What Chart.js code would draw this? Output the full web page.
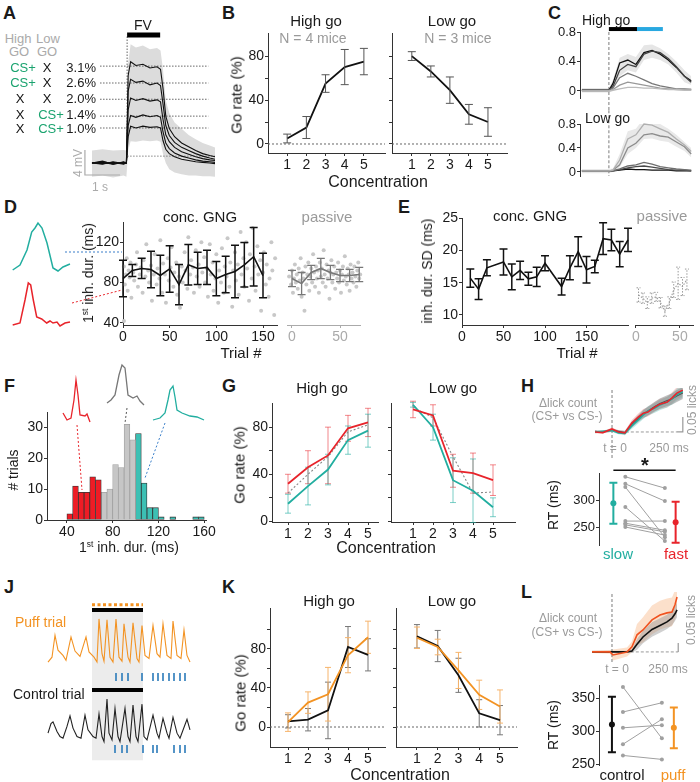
<!DOCTYPE html>
<html>
<head>
<meta charset="utf-8">
<title>Concentration go/no-go</title>
<script src="https://cdn.jsdelivr.net/npm/chart.js@4.4.1/dist/chart.umd.min.js"></script>
<style>
  body { margin: 0; width: 700px; height: 782px; position: relative; overflow: hidden; background: #fff;
         font-family: "Liberation Sans", Arial, Helvetica, sans-serif; }
  canvas { position: absolute; }
  .t { position: absolute; white-space: nowrap; line-height: 1; color: #1a1a1a; }
  sup { font-size: 0.6em; vertical-align: 0.55em; line-height: 0; }
</style>
</head>
<body>
<script>
// ---------------- data ----------------
var conc = [1, 2, 3, 4, 5];

// A - voltage traces per concentration (mV above baseline)
var aTime = [0, 0.3, 0.6, 0.9, 0.98, 1.03, 1.1, 1.25, 1.45, 1.65, 1.85, 1.95, 2.02, 2.1, 2.2, 2.35, 2.55, 2.75, 2.95, 3.15, 3.35, 3.5];
var aConc = ['3.1%', '2.6%', '2.0%', '1.4%', '1.0%'];
var aHighGo = ['CS+', 'CS+', 'X', 'X', 'X'];
var aLowGo = ['X', 'X', 'X', 'CS+', 'CS+'];
var aTraces = [
  [0, 0.3, -0.2, 0.2, 0, 14.0, 16.2, 15.6, 15.8, 15.2, 15.4, 15.0, 12.0, 7.5, 5.5, 4.2, 3.2, 2.6, 2.0, 1.5, 1.2, 1.0],
  [0, -0.2, 0.2, -0.1, 0, 11.5, 13.4, 12.9, 13.1, 12.5, 12.8, 12.4, 9.5, 6.0, 4.4, 3.3, 2.5, 2.0, 1.5, 1.1, 0.8, 0.6],
  [0, 0.2, -0.1, 0.1, 0, 8.5, 10.4, 10.0, 10.3, 9.9, 10.1, 9.8, 7.0, 4.5, 3.4, 2.5, 1.8, 1.4, 1.0, 0.7, 0.5, 0.4],
  [0, -0.1, 0.1, -0.2, 0, 6.0, 7.6, 7.3, 7.7, 7.4, 7.6, 7.3, 5.0, 3.2, 2.3, 1.6, 1.1, 0.8, 0.5, 0.3, 0.2, 0.1],
  [0, 0.1, -0.2, 0.1, 0, 4.2, 5.9, 5.6, 5.9, 5.7, 5.8, 5.6, 3.6, 2.2, 1.5, 1.0, 0.6, 0.4, 0.2, 0.1, 0.0, -0.1]
];
var aBandHi = [2, 2.2, 2, 2.1, 2, 16, 19, 18.5, 18.8, 18.2, 18.4, 18, 15, 10, 8, 6.5, 5.5, 4.5, 3.8, 3.2, 2.8, 2.5];
var aBandLo = [-2.2, -2, -2.3, -2, -2.2, 2, 3.5, 3.4, 3.6, 3.5, 3.6, 3.4, 1.5, 0, -1, -1.5, -1.8, -2, -2, -2.1, -2.1, -2.2];
var aLevels = [15.5, 12.8, 10.2, 7.5, 5.6];
var aFV = [1.0, 1.94];

// B - go rate vs concentration
var bHigh = [5, 15, 55, 70, 75];
var bHighErr = [4, 10, 8, 16, 12];
var bLow = [80, 66, 49, 27, 20];
var bLowErr = [4, 5, 12, 9, 13];

// C - lick count traces
var cTime = [-1, -0.5, 0, 0.15, 0.4, 0.7, 1.0, 1.3, 1.6, 1.9, 2.2, 2.5, 2.8, 3.05];
var cHigh = [
  [0.01, 0.01, 0.01, 0.1, 0.38, 0.42, 0.36, 0.52, 0.55, 0.5, 0.42, 0.32, 0.2, 0.14],
  [0.01, 0.01, 0.01, 0.06, 0.28, 0.36, 0.33, 0.5, 0.54, 0.52, 0.44, 0.33, 0.2, 0.12],
  [0.01, 0.01, 0.01, 0.04, 0.18, 0.24, 0.2, 0.15, 0.1, 0.07, 0.05, 0.03, 0.03, 0.02],
  [0, 0, 0, 0.02, 0.08, 0.12, 0.1, 0.08, 0.06, 0.04, 0.03, 0.02, 0.02, 0.02],
  [0, 0, 0, 0.01, 0.03, 0.05, 0.05, 0.04, 0.04, 0.03, 0.02, 0.02, 0.01, 0.01]
];
var cHighColors = ['#111', '#444', '#777', '#999', '#bbb'];
var cHighBandHi = [0.04, 0.04, 0.04, 0.15, 0.45, 0.5, 0.46, 0.62, 0.63, 0.58, 0.5, 0.4, 0.28, 0.2];
var cHighBandLo = [-0.02, -0.02, -0.02, 0, 0.2, 0.28, 0.25, 0.42, 0.45, 0.42, 0.36, 0.25, 0.12, 0.08];
var cLow = [
  [0.02, 0.02, 0.02, 0.03, 0.2, 0.55, 0.62, 0.8, 0.78, 0.72, 0.66, 0.55, 0.45, 0.34],
  [0.02, 0.02, 0.02, 0.03, 0.12, 0.4, 0.48, 0.62, 0.64, 0.6, 0.58, 0.5, 0.42, 0.3],
  [0.02, 0.02, 0.02, 0.02, 0.05, 0.1, 0.12, 0.16, 0.13, 0.09, 0.07, 0.05, 0.04, 0.03],
  [0.02, 0.02, 0.02, 0.02, 0.04, 0.07, 0.09, 0.1, 0.08, 0.06, 0.04, 0.03, 0.03, 0.02],
  [0.02, 0.02, 0.02, 0.02, 0.03, 0.05, 0.04, 0.04, 0.03, 0.03, 0.03, 0.02, 0.02, 0.02]
];
var cLowColors = ['#b0b0b0', '#8c8c8c', '#6e6e6e', '#4a4a4a', '#111'];
var cLowBandHi = [0.05, 0.05, 0.05, 0.06, 0.3, 0.68, 0.72, 0.9, 0.86, 0.8, 0.72, 0.62, 0.5, 0.4];
var cLowBandLo = [-0.02, -0.02, -0.02, 0, 0.08, 0.3, 0.4, 0.55, 0.56, 0.52, 0.5, 0.42, 0.35, 0.24];
var cOdorBar = [0, 1.04];
var cRespBar = [1.0, 2.0];

// D - first inhalation duration across trials
var dTrials = [0, 10, 20, 30, 40, 50, 60, 70, 80, 90, 100, 110, 120, 130, 140, 150];
var dMean = [84, 92, 94, 93, 87, 93.5, 78, 97.6, 94, 95, 84, 88, 91, 97.6, 105.6, 87];
var dErr = [18, 6, 10, 18, 20, 23, 20, 20, 16, 17, 17, 18, 26, 22, 29, 22];
var dDots = [[1,42],[1,96],[2,78],[3,88],[4,104],[5,72],[6,92],[7,85],[8,100],[9,65],[11,90],[12,82],[14,98],[15,110],[16,76],[18,88],[19,95],[21,70],[22,102],[24,86],[25,118],[27,92],[28,80],[30,97],[31,62],[33,88],[34,108],[36,78],[37,94],[39,84],[40,122],[42,70],[43,99],[45,88],[46,60],[48,104],[49,82],[51,95],[52,115],[54,76],[55,90],[57,100],[58,68],[60,86],[61,55],[63,96],[64,80],[66,110],[67,92],[69,74],[70,125],[72,88],[73,102],[75,95],[76,70],[78,112],[79,86],[81,98],[82,76],[84,120],[85,90],[87,105],[88,80],[90,94],[91,66],[93,118],[94,88],[96,100],[97,72],[99,84],[100,108],[102,60],[103,92],[105,80],[106,114],[108,70],[109,96],[111,86],[112,124],[114,76],[115,100],[117,56],[118,92],[120,110],[121,82],[123,98],[124,68],[126,130],[127,88],[129,104],[130,76],[132,120],[133,94],[135,62],[136,108],[138,84],[139,134],[141,96],[142,72],[144,116],[145,88],[147,102],[148,52],[150,90],[151,110],[153,78],[154,98],[156,66],[157,84],[159,120],[160,92],[162,48],[163,104]];
var dPassTrials = [0, 10, 20, 30, 40, 50, 60, 70];
var dPassMean = [84, 79, 90, 94, 90, 87, 87, 88];
var dPassErr = [8, 11, 7, 10, 7, 6, 6, 7];
var dPassDots = [[-3,86],[-1,78],[0,92],[1,70],[2,84],[3,98],[4,80],[5,88],[6,74],[7,94],[8,82],[9,104],[10,66],[11,90],[12,84],[13,52],[14,96],[15,78],[16,88],[17,100],[18,72],[19,86],[20,94],[21,80],[22,108],[23,90],[24,76],[25,96],[26,84],[27,92],[28,70],[29,100],[30,86],[31,94],[32,80],[33,112],[34,88],[35,76],[36,98],[37,84],[38,92],[39,64],[40,90],[41,102],[42,80],[43,88],[44,96],[45,74],[46,90],[47,84],[48,100],[49,80],[50,92],[51,70],[52,88],[53,96],[54,82],[55,106],[56,86],[57,78],[58,94],[59,88],[60,72],[61,98],[62,84],[63,90],[64,80],[65,96],[66,86],[67,76],[68,92],[69,100],[70,84],[71,88]];
// D insets: example sniffs (ms, a.u.)
var dSniffLong = [[2.7,65],[10,70],[17,85],[21.7,103],[25,107],[28,112],[32,107],[37,92],[43,67],[48,64],[53,68],[60,71]];
var dSniffShort = [[2.7,10],[10,12],[15,35],[18.3,52],[20.7,50],[23.3,35],[26.7,18],[31.7,16],[36.7,12],[40,14],[43,12],[47,13],[50,9],[55,12],[60,13]];

// E - SD of inhalation duration
var eTrials = [10, 20, 30, 50, 60, 70, 80, 90, 100, 120, 130, 140, 150, 160, 170, 180, 190, 200];
var eMean = [15.7, 14.0, 17.3, 18.2, 15.9, 16.9, 15.6, 15.9, 18.0, 14.4, 17.3, 19.8, 17.0, 17.5, 21.8, 21.6, 19.4, 21.6];
var eErr = [1.4, 1.6, 1.25, 2.0, 2.0, 1.4, 1.0, 1.5, 1.15, 1.3, 1.85, 2.3, 2.05, 0.95, 2.45, 1.65, 1.95, 1.8];
var ePassTrials = [3, 8, 13, 18, 23, 28, 33, 38, 43, 48, 53, 58];
var ePassMean = [13.1, 12.6, 11.9, 12.6, 12.8, 11.9, 10.6, 11.9, 13.9, 14.9, 14.4, 15.5];
var ePassErr = [1.1, 0.8, 0.9, 0.8, 0.7, 0.8, 0.8, 0.9, 1.2, 2.5, 1.4, 1.6];

// F - histogram of first inhalation duration (5 ms bins)
var fShortBins = [42.5, 47.5, 52.5, 57.5, 62.5, 67.5];
var fShortCounts = [2, 11, 9, 9, 14, 13];
var fMidBins = [72.5, 77.5, 82.5, 87.5, 92.5, 97.5];
var fMidCounts = [9, 10, 18, 17, 31, 26];
var fLongBins = [102.5, 107.5, 112.5, 117.5, 122.5, 127.5, 132.5, 137.5, 142.5, 147.5, 152.5, 157.5];
var fLongCounts = [28, 12, 4, 4, 1, 0, 1, 0, 0, 0, 1, 1];
var fSniffShort = [[8,82],[12,75],[16,77],[19,95],[21,115],[23,100],[25,80],[30,79],[32,81],[35,73]];
var fSniffMid = [[52,92],[56,95],[60,100],[64,120],[67,130],[70,127],[73,100],[78,97],[82,99],[85,94],[89,90]];
var fSniffLong = [[98,75],[105,77],[110,82],[113,95],[115,105],[118,109],[120,98],[122,85],[127,82],[135,79],[142,78],[149,75]];

// G - go rate split by fast / slow first inhalation
var gHighFast = [32, 46, 56, 79, 84];
var gHighFastErr = [8, 14, 24, 11, 12];
var gHighSlow = [15, 30, 44, 69, 77];
var gHighSlowErr = [8, 16, 13, 12, 14];
var gHighAll = [24, 40, 55, 76, 82];
var gLowFast = [95, 90, 43, 41, 35];
var gLowFastErr = [7, 9, 14, 17, 13];
var gLowSlow = [99, 80, 35, 26, 12];
var gLowSlowErr = [2, 11, 19, 27, 8];
var gLowAll = [97, 88, 55, 24, 25];

// H - lick difference traces and reaction times
var hTime = [-185, -100, 0, 70, 140, 215, 285, 340, 390, 465, 520, 600, 650, 705, 770];
var hFast = [0, -0.002, 0.01, 0, -0.003, 0.03, 0.05, 0.063, 0.067, 0.083, 0.093, 0.1, 0.113, 0.13, 0.14];
var hSlow = [0, 0.002, 0.005, -0.003, -0.005, 0.02, 0.04, 0.057, 0.07, 0.08, 0.09, 0.1, 0.11, 0.125, 0.135];
var hAll = [0.002, 0, 0.006, 0.002, -0.002, 0.025, 0.045, 0.06, 0.07, 0.085, 0.095, 0.105, 0.11, 0.12, 0.13];
var hSem = [0.004, 0.004, 0.005, 0.005, 0.006, 0.01, 0.012, 0.014, 0.015, 0.016, 0.017, 0.018, 0.019, 0.02, 0.02];
var hRtSlow = [343, 330, 324, 287, 261, 257, 254, 250];
var hRtFast = [322, 298, 231, 224, 261, 244, 241, 235];
var hMean = [294, 259];
var hMeanErr = [38, 38];

// J - respiration traces (s, a.u.) and lick times
var jOdor = [0.47, 0.98];
var jPuff = [[0.03,0],[0.07,0.11],[0.10,0.61],[0.13,0.27],[0.18,0.15],[0.21,0.04],[0.26,0.57],[0.30,0.25],[0.35,0.13],[0.41,0.57],[0.44,0.23],[0.49,0.11],[0.52,0],[0.54,0.98],[0.57,0.19],[0.59,0.02],[0.62,0.96],[0.65,0.11],[0.68,0],[0.71,0.98],[0.74,0.11],[0.77,0.02],[0.79,0.87],[0.83,0.11],[0.85,0],[0.88,0.89],[0.92,0.08],[0.94,0],[0.97,0.83],[1.00,0.15],[1.04,0.08],[1.08,0.83],[1.12,0.19],[1.15,0.11],[1.18,0.87],[1.22,0.15],[1.26,0.08],[1.28,0.93],[1.32,0.15],[1.36,0.08],[1.39,0.73],[1.42,0.15],[1.45,0]];
var jCtrl = [[0.03,0.21],[0.06,0.44],[0.08,0.48],[0.12,0.25],[0.15,0.13],[0.18,0.09],[0.22,0.37],[0.25,0.62],[0.28,0.33],[0.32,0.13],[0.36,0.09],[0.40,0.64],[0.43,0.29],[0.48,0.13],[0.51,0.09],[0.54,0.67],[0.57,0.13],[0.59,0.01],[0.62,1.02],[0.64,0.21],[0.67,0.05],[0.70,0.80],[0.73,0.13],[0.75,0.01],[0.80,0.80],[0.83,0.13],[0.85,0.01],[0.88,0.88],[0.91,0.13],[0.93,0.01],[0.97,0.90],[0.99,0.13],[1.02,0.05],[1.08,0.64],[1.12,0.21],[1.14,0.09],[1.18,0.56],[1.22,0.21],[1.24,0.09],[1.28,0.59],[1.32,0.21],[1.35,0.09],[1.42,0.54],[1.45,0.29]];
var jPuffLicks = [0.71, 0.77, 0.83, 0.97, 1.08, 1.13, 1.18, 1.24, 1.29, 1.35, 1.40];
var jCtrlLicks = [0.70, 0.77, 0.82, 0.98, 1.08, 1.12, 1.29, 1.35, 1.40];

// K - go rate, air puff vs control
var kHighCtrl = [5.8, 7.5, 17, 82, 74];
var kHighCtrlErr = [6.8, 11.5, 29, 21, 16.5];
var kHighPuff = [5, 25, 33.6, 73.6, 92];
var kHighPuffErr = [9.5, 11, 27.5, 18, 16.5];
var kLowCtrl = [93, 83, 53, 14, 7];
var kLowCtrlErr = [12, 16, 17.5, 14, 15];
var kLowPuff = [91.5, 82, 58, 33, 21];
var kLowPuffErr = [11, 8, 18.5, 15, 17];

// L - lick difference traces and reaction times
var lTime = [-217, -22, 11, 163, 217, 272, 337, 435, 522, 598, 652, 685, 707];
var lPuff = [0, 0, -0.017, 0, 0.028, 0.095, 0.122, 0.178, 0.205, 0.217, 0.222, 0.262, 0.305];
var lCtrl = [0, 0, 0, 0, 0.005, 0.042, 0.083, 0.125, 0.147, 0.167, 0.188, 0.212, 0.233];
var lPuffSem = [0.006, 0.01, 0.03, 0.025, 0.03, 0.06, 0.07, 0.08, 0.08, 0.08, 0.08, 0.08, 0.08];
var lCtrlSem = [0.006, 0.006, 0.006, 0.006, 0.01, 0.03, 0.035, 0.04, 0.04, 0.04, 0.04, 0.04, 0.04];
var lRtCtrl = [367, 329, 305, 280, 263];
var lRtPuff = [289, 343, 309, 318, 257];
var lMean = [310, 305];
var lMeanErr = [42, 31];

// ---------------- helpers ----------------
Chart.defaults.animation = false;
Chart.defaults.events = [];
Chart.defaults.font.family = '"Liberation Sans", Arial, sans-serif';
Chart.defaults.font.size = 14;
Chart.defaults.color = '#1a1a1a';
Chart.defaults.plugins.legend.display = false;
Chart.defaults.plugins.tooltip.enabled = false;

var RED = '#e8242b', TEAL = '#22aea0', ORANGE = '#f39323', BLUE = '#2b7bba', CSGREEN = '#1aa36f';

function drawErr(chart, behind) {
  var ctx = chart.ctx;
  chart.data.datasets.forEach(function (ds, i) {
    if (!ds.err || !!ds.errBehind !== behind) return;
    var meta = chart.getDatasetMeta(i);
    var xs = chart.scales[meta.xAxisID], ys = chart.scales[meta.yAxisID];
    var cap = ds.cap == null ? 3 : ds.cap;
    ctx.save();
    ctx.strokeStyle = ds.errColor || ds.borderColor;
    ctx.lineWidth = ds.errWidth || 1;
    ctx.setLineDash(ds.errDash || []);
    ds.data.forEach(function (p, j) {
      var x = xs.getPixelForValue(p.x);
      var lo = ys.getPixelForValue(p.y - ds.err[j]), hi = ys.getPixelForValue(p.y + ds.err[j]);
      ctx.beginPath();
      ctx.moveTo(x, lo); ctx.lineTo(x, hi);
      if (cap) {
        ctx.moveTo(x - cap, lo); ctx.lineTo(x + cap, lo);
        ctx.moveTo(x - cap, hi); ctx.lineTo(x + cap, hi);
      }
      ctx.stroke();
    });
    ctx.restore();
  });
}
var errBars = {
  id: 'errBars',
  beforeDatasetsDraw: function (chart) { drawErr(chart, true); },
  afterDatasetsDraw: function (chart) { drawErr(chart, false); }
};

function pts(xs, ys) { return xs.map(function (x, i) { return { x: x, y: ys[i] }; }); }
function pairPts(list) { return list.map(function (p) { return { x: p[0], y: p[1] }; }); }

function ln(xs, ys, color, width, more) {
  return Object.assign({
    data: pts(xs, ys), borderColor: color, borderWidth: width == null ? 1.5 : width,
    pointRadius: 0, fill: false, clip: false, order: 1
  }, more || {});
}
function path(list, color, width, more) {
  return Object.assign({
    data: pairPts(list), borderColor: color, borderWidth: width == null ? 1.5 : width,
    pointRadius: 0, fill: false, clip: false, order: 1
  }, more || {});
}
function dots(list, color, r) {
  return { data: pairPts(list), showLine: false, pointRadius: r || 2, pointBackgroundColor: color,
           pointBorderWidth: 0, borderColor: color, clip: false, order: 4 };
}
function bandHL(xs, hi, lo, color) {
  return [
    { data: pts(xs, hi), borderWidth: 0, pointRadius: 0, backgroundColor: color, fill: '+1', order: 6 },
    { data: pts(xs, lo), borderWidth: 0, pointRadius: 0, fill: false, order: 6 }
  ];
}
function band(xs, mid, sem, color) {
  return bandHL(xs, mid.map(function (v, i) { return v + sem[i]; }), mid.map(function (v, i) { return v - sem[i]; }), color);
}
function strokes(times, lo, hi, color, width, more) {
  var d = [];
  times.forEach(function (t) { d.push({ x: t, y: lo }, { x: t, y: hi }, { x: t, y: null }); });
  return Object.assign({ data: d, borderColor: color, borderWidth: width, pointRadius: 0, spanGaps: false,
                         fill: false, clip: false, order: 1 }, more || {});
}

function axis(min, max, o) {
  o = o || {};
  var col = o.color || '#333';
  return {
    type: 'linear', min: min, max: max, display: !!o.show, offset: false,
    afterBuildTicks: function (s) { s.ticks = (o.ticks || []).map(function (v) { return { value: v }; }); },
    ticks: { display: o.labels !== false, color: o.labelColor || '#1a1a1a', padding: 1,
             autoSkip: false, maxRotation: 0, font: { size: o.size || 14 },
             callback: o.fmt || function (v) { return String(v); } },
    grid: { display: true, drawOnChartArea: false, drawTicks: true, tickLength: 3, color: col, offset: false },
    border: { display: true, color: col, width: 1 }
  };
}

function mk(area, datasets, scales, yW, xH, pad) {
  var P = pad || 10;
  var c = document.createElement('canvas');
  var w = area[2] - area[0] + yW + 2 * P, h = area[3] - area[1] + xH + 2 * P;
  c.width = w; c.height = h;
  c.style.left = (area[0] - yW - P) + 'px';
  c.style.top = (area[1] - P) + 'px';
  c.style.width = w + 'px'; c.style.height = h + 'px';
  document.body.appendChild(c);
  Object.keys(scales).forEach(function (k) {
    scales[k].afterFit = function (s) { if (s.isHorizontal()) s.height = xH; else s.width = yW; };
  });
  return new Chart(c, {
    type: 'line',
    data: { datasets: datasets },
    options: { responsive: false, maintainAspectRatio: false, devicePixelRatio: 1,
               layout: { padding: P }, scales: scales },
    plugins: [errBars]
  });
}

function txt(s, x, y, o) {
  o = o || {};
  var d = document.createElement('div');
  d.className = 't';
  d.innerHTML = s;
  d.style.left = x + 'px';
  d.style.top = y + 'px';
  d.style.fontSize = (o.size || 14) + 'px';
  if (o.color) d.style.color = o.color;
  if (o.bold) d.style.fontWeight = 'bold';
  var tf = o.a === 'tl' ? '' : o.a === 'l' ? 'translate(0,-50%)' : o.a === 'r' ? 'translate(-100%,-50%)' : 'translate(-50%,-50%)';
  if (o.rot) tf += ' rotate(-90deg)';
  d.style.transform = tf;
  document.body.appendChild(d);
}
var GRAY = '#9a9a9a';

// ---------------- panel letters ----------------
[['A', 3, 4], ['B', 222, 4], ['C', 548, 4], ['D', 4, 198], ['E', 398, 198], ['F', 4, 377], ['G', 222, 377],
 ['H', 521, 377], ['J', 4, 578], ['K', 222, 578], ['L', 521, 583]].forEach(function (p) {
  txt(p[0], p[1], p[2], { a: 'tl', bold: true, size: 18 });
});

// ---------------- A ----------------
(function () {
  var ds = [];
  aTraces.forEach(function (tr) { ds.push(ln(aTime, tr, '#111', 1.1)); });
  aLevels.forEach(function (v) { ds.push(ln([0.23, 3.31], [v, v], '#555', 0.9, { borderDash: [1.5, 1.5], order: 3 })); });
  ds.push(ln([1.0, 3.5], [1.1, 1.1], '#777', 0.9, { borderDash: [1.5, 1.5], order: 3 }));
  ds.push(ln([1.0, 1.0], [0.8, 20.5], '#555', 0.9, { borderDash: [1.5, 1.5], order: 3 }));
  ds.push(ln(aFV, [20.5, 20.5], '#000', 5));
  ds.push(ln([-0.2, -0.2, 0.8], [2.08, -1.92, -1.92], '#aaa', 1.2));
  ds = ds.concat(bandHL(aTime, aBandHi, aBandLo, '#dcdcdc'));
  mk([80, 40, 215, 178], ds, { x: axis(-0.34, 3.5), y: axis(-2.4, 19.68) }, 0, 0);
  txt('High', 18, 38, { color: '#aaa', size: 13 });
  txt('GO', 19, 51, { color: '#aaa', size: 13 });
  txt('Low', 48, 38, { color: '#aaa', size: 13 });
  txt('GO', 47, 51, { color: '#aaa', size: 13 });
  var rowY = [67, 82, 98, 114, 128];
  aConc.forEach(function (c, i) {
    txt(c, 96, rowY[i], { a: 'r', size: 13 });
    txt(aHighGo[i], aHighGo[i] === 'X' ? 20 : 23, rowY[i], { size: 13, color: aHighGo[i] === 'X' ? '#111' : CSGREEN });
    txt(aLowGo[i], aLowGo[i] === 'X' ? 47 : 51, rowY[i], { size: 13, color: aLowGo[i] === 'X' ? '#111' : CSGREEN });
  });
  txt('FV', 143, 25, { size: 14 });
  txt('4 mV', 78, 163, { size: 12, color: '#aaa', rot: true });
  txt('1 s', 100, 187, { size: 12, color: '#aaa' });
})();

// ---------------- B ----------------
(function () {
  var zero = function (a, b) { return ln([a, b], [0, 0], '#666', 1, { borderDash: [2, 2], order: 3 }); };
  var yB = function (labels) {
    return axis(-8.2, 101, { show: true, ticks: [0, 20, 40, 60, 80], labels: labels,
      fmt: function (v) { return v % 40 === 0 ? String(v) : ''; } });
  };
  mk([268, 33, 385, 153], [zero(0, 6.1), ln(conc, bHigh, '#111', 1.8, { err: bHighErr, errColor: '#555', cap: 4 })],
     { x: axis(0, 6.1, { show: true, ticks: conc }), y: yB(true) }, 30, 18);
  mk([392, 33, 507, 153], [zero(-0.04, 6.0), ln(conc, bLow, '#111', 1.8, { err: bLowErr, errColor: '#555', cap: 4 })],
     { x: axis(-0.04, 6.0, { show: true, ticks: conc }), y: yB(false) }, 4, 18);
  txt('High go', 316, 20, { size: 15 });
  txt('Low go', 452, 20, { size: 15 });
  txt('N = 4 mice', 313, 38, { size: 14, color: GRAY });
  txt('N = 3 mice', 458, 38, { size: 14, color: GRAY });
  txt('Go rate (%)', 236, 95, { size: 15, rot: true });
  txt('Concentration', 378, 182, { size: 16 });
})();

// ---------------- C ----------------
(function () {
  var ds1 = [];
  cHigh.forEach(function (tr, i) { ds1.push(ln(cTime, tr, cHighColors[i], 1.3, { order: 2 - i * 0.1 })); });
  ds1.push(ln([0, 0], [0.8, -0.285], '#888', 1.1, { borderDash: [3, 2], order: 3 }));
  ds1.push(ln(cOdorBar, [0.84, 0.84], '#000', 4));
  ds1.push(ln(cRespBar, [0.84, 0.84], '#29a8e0', 4));
  ds1 = ds1.concat(bandHL(cTime, cHighBandHi, cHighBandLo, '#e6e6e6'));
  mk([580, 32, 695, 98], ds1, { x: axis(-1.07, 3.19), y: axis(-0.095, 0.8, { show: true, ticks: [0, 0.4, 0.8], size: 13 }) }, 22, 0, 16);
  var ds2 = [];
  cLow.forEach(function (tr, i) { ds2.push(ln(cTime, tr, cLowColors[i], 1.3, { order: 1 + i * 0.1 })); });
  ds2.push(ln([0, 0], [1.03, -0.067], '#888', 1.1, { borderDash: [3, 2], order: 3 }));
  ds2 = ds2.concat(bandHL(cTime, cLowBandHi, cLowBandLo, '#e9e9e9'));
  mk([580, 124, 695, 176], ds2, { x: axis(-1.07, 3.19), y: axis(-0.067, 0.8, { show: true, ticks: [0, 0.4, 0.8], size: 13 }) }, 22, 0, 16);
  txt('High go', 582, 20, { a: 'l', size: 14 });
  txt('Low go', 585, 118, { a: 'l', size: 14 });
})();

// ---------------- D ----------------
(function () {
  var yD = axis(38, 140, { show: true, ticks: [40, 80, 120] });
  mk([123, 222, 277, 325],
     [dots(dDots, '#c8c8c8', 2), ln(dTrials, dMean, '#111', 1.6, { err: dErr, errColor: '#111', errWidth: 1.5, cap: 4 })],
     { x: axis(0, 165, { show: true, ticks: [0, 50, 100, 150] }), y: yD }, 28, 18);
  var yP = axis(38, 140); 
  mk([287, 222, 360, 325],
     [dots(dPassDots, '#c8c8c8', 2), ln(dPassTrials, dPassMean, '#777', 1.6, { err: dPassErr, errColor: '#777', errWidth: 1.3, cap: 4 })],
     { x: axis(-5.2, 70.8, { show: true, ticks: [0, 50], color: '#aaa', labelColor: '#aaa' }), y: yP }, 0, 18);
  // example sniffs and connectors
  mk([10, 215, 125, 335],
     [path(dSniffLong, TEAL, 1.5), path(dSniffShort, RED, 1.5),
      ln([55, 112], [83, 83], '#3a7fc9', 1, { borderDash: [2, 2] }),
      ln([62, 112], [32, 45], RED, 1, { borderDash: [2, 2] })],
     { x: axis(0, 115), y: axis(0, 120) }, 0, 0);
  txt('conc. GNG', 200, 216, { size: 15 });
  txt('passive', 327, 216, { size: 15, color: GRAY });
  txt('1<sup>st</sup> inh. dur. (ms)', 88, 273, { size: 14, rot: true });
  txt('Trial #', 241, 352, { size: 15 });
})();

// ---------------- E ----------------
(function () {
  mk([462, 218, 628, 325], [ln(eTrials, eMean, '#111', 1.6, { err: eErr, errColor: '#111', errWidth: 1.5, cap: 4 })],
     { x: axis(0, 200, { show: true, ticks: [0, 50, 100, 150] }), y: axis(8.45, 25, { show: true, ticks: [10, 15, 20, 25] }) }, 24, 18);
  mk([635, 218, 693, 325],
     [ln(ePassTrials, ePassMean, '#999', 1.1, { borderDash: [1.5, 1.5], err: ePassErr, errColor: '#999', errDash: [1.5, 1.5], cap: 2 })],
     { x: axis(-1, 64.9, { show: true, ticks: [0, 50], labelColor: '#aaa' }), y: axis(8.45, 25) }, 0, 18);
  txt('conc. GNG', 530, 215, { size: 15 });
  txt('passive', 662, 215, { size: 15, color: GRAY });
  txt('inh. dur. SD (ms)', 427, 271, { size: 14, rot: true });
  txt('Trial #', 577, 352, { size: 15 });
})();

// ---------------- F ----------------
(function () {
  var bar = function (bins, counts, fillc, edge) {
    return { type: 'bar', data: pts(bins, counts), backgroundColor: fillc, borderColor: edge, borderWidth: 0.8,
             borderSkipped: false, barPercentage: 1, categoryPercentage: 1, grouped: false, order: 2 };
  };
  mk([47, 412, 207, 520],
     [bar(fShortBins, fShortCounts, '#ee1c25', '#333'), bar(fMidBins, fMidCounts, '#c6c6c6', '#a0a0a0'),
      bar(fLongBins, fLongCounts, '#3cc0b4', '#333')],
     { x: axis(22.6, 161.7, { show: true, ticks: [40, 80, 120, 160] }), y: axis(0, 35, { show: true, ticks: [0, 10, 20, 30] }) }, 26, 18);
  mk([55, 360, 210, 495],
     [path(fSniffShort, RED, 1.3), path(fSniffMid, '#777', 1.3), path(fSniffLong, TEAL, 1.3),
      ln([22, 27], [70, 5], RED, 1, { borderDash: [2, 2] }),
      ln([72, 70], [87, 72], '#555', 1, { borderDash: [2, 2] }),
      ln([110, 90], [72, 17], '#3a7fc9', 1, { borderDash: [2, 2] })],
     { x: axis(0, 155), y: axis(0, 135) }, 0, 0);
  txt('# trials', 13, 470, { size: 14, rot: true });
  txt('1<sup>st</sup> inh. dur. (ms)', 129, 547, { size: 14 });
})();

// ---------------- G ----------------
(function () {
  var yG = function (labels) {
    return axis(-0.5, 100.5, { show: true, ticks: [0, 20, 40, 60, 80], labels: labels,
      fmt: function (v) { return v % 40 === 0 ? String(v) : ''; } });
  };
  var set = function (fast, fastErr, slow, slowErr, all) {
    return [
      ln(conc, fast, RED, 1.8, { err: fastErr, errColor: 'rgba(232,36,43,0.55)', errBehind: true, cap: 3, order: 1 }),
      ln(conc, slow, TEAL, 1.8, { err: slowErr, errColor: 'rgba(34,174,160,0.6)', errBehind: true, cap: 3, order: 1.5 }),
      ln(conc, all, '#888', 1.1, { borderDash: [2, 2], order: 2 })
    ];
  };
  mk([272, 403, 378, 522], set(gHighFast, gHighFastErr, gHighSlow, gHighSlowErr, gHighAll),
     { x: axis(0.2, 5.5, { show: true, ticks: conc }), y: yG(true) }, 30, 18);
  mk([391, 403, 515, 522], set(gLowFast, gLowFastErr, gLowSlow, gLowSlowErr, gLowAll),
     { x: axis(-0.1, 6.1, { show: true, ticks: conc }), y: yG(false) }, 4, 18);
  txt('High go', 322, 387, { size: 15 });
  txt('Low go', 453, 387, { size: 15 });
  txt('Go rate (%)', 239, 465, { size: 15, rot: true });
  txt('Concentration', 386, 548, { size: 16 });
})();

// ---------------- H ----------------
(function () {
  var ds = [
    ln(hTime, hFast, RED, 1.6, { order: 1 }),
    ln(hTime, hSlow, TEAL, 1.6, { order: 1.2 }),
    ln(hTime, hAll, '#555', 1.2, { order: 1.4 }),
    ln([0, 0], [-0.087, 0.147], '#888', 1.1, { borderDash: [3, 2], order: 3 }),
    ln([150, 700], [0, 0], '#999', 1, { borderDash: [3, 2], order: 3 }),
    ln([700, 770, 770], [0, 0, 0.05], '#999', 1.2, { order: 3 })
  ];
  ds = ds.concat(band(hTime, hAll, hSem, 'rgba(140,140,140,0.55)'), band(hTime, hSlow, hSem, 'rgba(80,200,190,0.35)'),
                 band(hTime, hFast, hSem, 'rgba(240,120,120,0.35)'));
  mk([594, 388, 690, 458], ds, { x: axis(-196, 848), y: axis(-0.087, 0.147) }, 0, 0);

  var ds2 = [];
  hRtSlow.forEach(function (v, i) {
    ds2.push(ln([2.2, 5.5], [v, hRtFast[i]], '#a0a0a0', 1, { pointRadius: 2, pointBackgroundColor: '#a0a0a0', pointBorderWidth: 0, order: 3 }));
  });
  ds2.push(ln([1.2], [hMean[0]], TEAL, 0, { pointRadius: 3, pointBackgroundColor: TEAL, pointBorderWidth: 0, err: [hMeanErr[0]], errColor: TEAL, errWidth: 2, cap: 4 }));
  ds2.push(ln([6.4], [hMean[1]], RED, 0, { pointRadius: 3, pointBackgroundColor: RED, pointBorderWidth: 0, err: [hMeanErr[1]], errColor: RED, errWidth: 2, cap: 4 }));
  ds2.push(ln([1.2, 6.4], [355, 355], '#111', 1.5));
  mk([599, 473, 690, 545], ds2, { x: axis(0, 7.6), y: axis(216.7, 350, { show: true, ticks: [250, 300], size: 13 }) }, 30, 0);

  txt('\u0394lick count', 568, 403, { size: 12, color: GRAY });
  txt('(CS+ vs CS-)', 567, 416, { size: 12, color: GRAY });
  txt('t = 0', 615, 448, { size: 12, color: GRAY });
  txt('250 ms', 669, 448, { size: 12, color: GRAY });
  txt('0.05 licks', 692, 410, { size: 12, color: GRAY, rot: true });
  txt('*', 645, 465, { size: 20, bold: true });
  txt('RT (ms)', 553, 505, { size: 14, rot: true });
  txt('slow', 618, 553, { size: 15, color: TEAL });
  txt('fast', 676, 553, { size: 15, color: RED });
})();

// ---------------- J ----------------
(function () {
  var ds = [
    path(jPuff, ORANGE, 1.1, { yAxisID: 'yP' }),
    path(jCtrl, '#222', 1.1, { yAxisID: 'yC' }),
    ln(jOdor, [1.18, 1.18], '#000', 4, { yAxisID: 'yP' }),
    ln(jOdor, [1.30, 1.30], ORANGE, 3, { yAxisID: 'yP', borderDash: [3, 2.5] }),
    ln(jOdor, [1.238, 1.238], '#000', 4, { yAxisID: 'yC' }),
    strokes(jPuffLicks, -0.25, -0.43, BLUE, 1.6, { yAxisID: 'yP' }),
    strokes(jCtrlLicks, -0.07, -0.26, BLUE, 1.6, { yAxisID: 'yC' }),
    ln(jOdor, [1.23, 1.23], 'rgba(0,0,0,0)', 0, { yAxisID: 'yP', fill: { value: -2.23 }, backgroundColor: '#ececec', order: 9 })
  ];
  mk([45, 600, 195, 765], ds, { x: axis(0, 1.5), yP: axis(-2.34, 1.41), yC: axis(-0.548, 3.38) }, 0, 0);
  txt('Puff trial', 15, 622, { a: 'l', size: 14, color: ORANGE });
  txt('Control trial', 13, 694, { a: 'l', size: 14 });
})();

// ---------------- K ----------------
(function () {
  var yK = function (labels) {
    return axis(-20.5, 122, { show: true, ticks: [0, 20, 40, 60, 80, 100], labels: labels,
      fmt: function (v) { return v % 40 === 0 ? String(v) : ''; } });
  };
  var set = function (ctrl, ctrlErr, puff, puffErr, xmin, xmax) {
    return [
      ln([xmin, xmax], [0, 0], '#666', 1, { borderDash: [2, 2], order: 3 }),
      ln(conc, ctrl, '#111', 1.8, { err: ctrlErr, errColor: '#777', errBehind: true, cap: 3, order: 1.5 }),
      ln(conc, puff, ORANGE, 1.8, { err: puffErr, errColor: '#f6b46c', errBehind: true, cap: 3, order: 1 })
    ];
  };
  mk([270, 608, 385, 747], set(kHighCtrl, kHighCtrlErr, kHighPuff, kHighPuffErr, 0.1, 5.85),
     { x: axis(0.1, 5.85, { show: true, ticks: conc }), y: yK(true) }, 30, 18);
  mk([396, 608, 517, 747], set(kLowCtrl, kLowCtrlErr, kLowPuff, kLowPuffErr, -0.01, 5.82),
     { x: axis(-0.01, 5.82, { show: true, ticks: conc }), y: yK(false) }, 4, 18);
  txt('High go', 329, 600, { size: 15 });
  txt('Low go', 452, 600, { size: 15 });
  txt('Go rate (%)', 240, 693, { size: 15, rot: true });
  txt('Concentration', 400, 775, { size: 16 });
})();

// ---------------- L ----------------
(function () {
  var ds = [
    ln(lTime, lPuff, '#f0521f', 1.6, { order: 1 }),
    ln(lTime, lCtrl, '#111', 1.6, { order: 1.2 }),
    ln([0, 0], [-0.056, 0.333], '#888', 1.1, { borderDash: [3, 2], order: 3 }),
    ln([150, 720], [0, 0], '#999', 1, { borderDash: [3, 2], order: 3 }),
    ln([720, 720], [0, 0.05], '#999', 1.2, { order: 3 })
  ];
  ds = ds.concat(band(lTime, lCtrl, lCtrlSem, 'rgba(150,150,150,0.45)'), band(lTime, lPuff, lPuffSem, 'rgba(245,165,105,0.35)'));
  mk([590, 592, 690, 662], ds, { x: axis(-239, 848), y: axis(-0.056, 0.333) }, 0, 0);

  var ds2 = [];
  lRtCtrl.forEach(function (v, i) {
    ds2.push(ln([2.0, 5.25], [v, lRtPuff[i]], '#a0a0a0', 1, { pointRadius: 2, pointBackgroundColor: '#a0a0a0', pointBorderWidth: 0, order: 3 }));
  });
  ds2.push(ln([1.08], [lMean[0]], '#111', 0, { pointRadius: 3, pointBackgroundColor: '#111', pointBorderWidth: 0, err: [lMeanErr[0]], errColor: '#111', errWidth: 2, cap: 4 }));
  ds2.push(ln([6.25], [lMean[1]], ORANGE, 0, { pointRadius: 3, pointBackgroundColor: ORANGE, pointBorderWidth: 0, err: [lMeanErr[1]], errColor: ORANGE, errWidth: 2, cap: 4 }));
  mk([599, 685, 690, 765], ds2, { x: axis(0, 7.6), y: axis(248.5, 370, { show: true, ticks: [250, 300, 350], size: 14 }) }, 30, 0);

  txt('\u0394lick count', 568, 618, { size: 12, color: GRAY });
  txt('(CS+ vs CS-)', 567, 632, { size: 12, color: GRAY });
  txt('t = 0', 617, 669, { size: 12, color: GRAY });
  txt('250 ms', 668, 669, { size: 12, color: GRAY });
  txt('0.05 licks', 691, 620, { size: 12, color: GRAY, rot: true });
  txt('RT (ms)', 553, 725, { size: 14, rot: true });
  txt('control', 622, 774, { size: 15 });
  txt('puff', 673, 774, { size: 15, color: ORANGE });
})();
</script>
</body>
</html>
